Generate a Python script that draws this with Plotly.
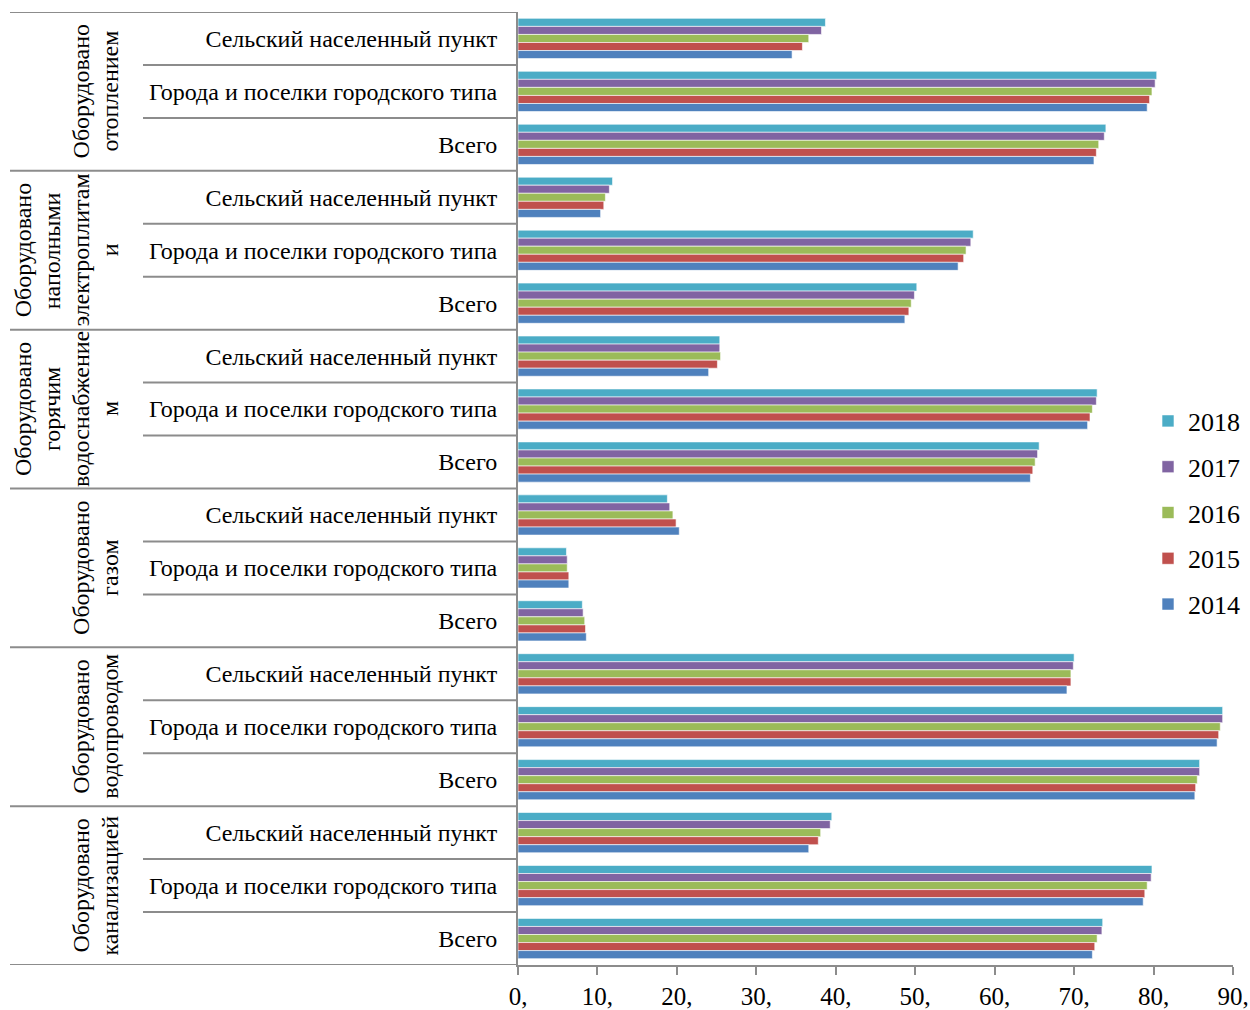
import plotly.graph_objects as go

group_lines = [["Оборудовано", "отоплением"],
               ["Оборудовано", "наполными", "электроплитам", "и"],
               ["Оборудовано", "горячим", "водоснабжение", "м"],
               ["Оборудовано", "газом"],
               ["Оборудовано", "водопроводом"],
               ["Оборудовано", "канализацией"]]
subs = ["Сельский населенный пункт", "Города и поселки городского типа", "Всего"]
years = ["2018", "2017", "2016", "2015", "2014"]
colors = ["#4BACC6", "#8064A2", "#9BBB59", "#C0504D", "#4F81BD"]

v2018 = [38.7, 80.4, 74.0, 11.9, 57.3, 50.2, 25.4, 72.9, 65.6, 18.8, 6.1, 8.1, 70.0, 88.7, 85.8, 39.5, 79.8, 73.6]
v2017 = [38.2, 80.2, 73.8, 11.5, 57.0, 49.9, 25.4, 72.8, 65.4, 19.1, 6.2, 8.2, 69.9, 88.7, 85.8, 39.3, 79.7, 73.5]
v2016 = [36.6, 79.8, 73.1, 11.0, 56.4, 49.5, 25.5, 72.3, 65.1, 19.5, 6.2, 8.4, 69.6, 88.4, 85.5, 38.1, 79.2, 72.9]
v2015 = [35.8, 79.5, 72.8, 10.8, 56.1, 49.2, 25.1, 72.0, 64.8, 19.9, 6.4, 8.5, 69.6, 88.2, 85.3, 37.8, 78.9, 72.6]
v2014 = [34.5, 79.2, 72.5, 10.4, 55.4, 48.7, 24.0, 71.7, 64.5, 20.3, 6.4, 8.6, 69.1, 88.0, 85.2, 36.6, 78.7, 72.3]
series = [v2018, v2017, v2016, v2015, v2014]

xticks = [0, 10, 20, 30, 40, 50, 60, 70, 80, 90]

FONT = "Times New Roman, Liberation Serif, serif"
GRAY = "#8C8C8C"

cats = []
labels = []
for gi in range(len(group_lines)):
    for s in subs:
        cats.append(f"{gi}|{s}")
        labels.append(s)

fig = go.Figure()
for name, vals, col in zip(years, series, colors):
    fig.add_trace(go.Bar(
        y=cats, x=vals, name=name, orientation="h",
        marker=dict(color=col, line=dict(color="rgba(255,255,255,0.6)", width=1)),
        legendgroup=name,
    ))

W, H = 1250, 1010
L, R, T, B = 518, 17, 12, 45
pw = W - L - R

def px2paper(px):
    return (px - L) / pw

shapes = []
n = len(cats)
for k in range(n + 1):
    y = k - 0.5
    x0 = px2paper(10) if k % 3 == 0 else px2paper(143)
    shapes.append(dict(type="line", xref="paper", yref="y", x0=x0, x1=0, y0=y, y1=y,
                       line=dict(color=GRAY, width=2)))

annotations = []
LINE_SP = 29
LAST_X = 110
for gi, lines in enumerate(group_lines):
    m = len(lines)
    for li, txt in enumerate(lines):
        cx = LAST_X - (m - 1 - li) * LINE_SP
        annotations.append(dict(
            text=txt, xref="paper", yref="y", x=px2paper(cx), y=gi * 3 + 1,
            xanchor="center", yanchor="middle", textangle=-90, showarrow=False,
            font=dict(family=FONT, size=24, color="black"),
        ))

fig.update_layout(
    width=W, height=H,
    margin=dict(l=L, r=R, t=T, b=B, pad=0, autoexpand=False),
    plot_bgcolor="white", paper_bgcolor="white",
    barmode="group", bargap=0.24, bargroupgap=0,
    font=dict(family=FONT, size=24, color="black"),
    shapes=shapes, annotations=annotations,
    legend=dict(xref="container", yref="container", x=1148 / W, y=1 - 513 / H,
                xanchor="left", yanchor="middle",
                font=dict(family=FONT, size=26, color="black"),
                tracegroupgap=9, bgcolor="rgba(0,0,0,0)"),
    showlegend=True,
)
fig.update_xaxes(range=[0, 90], tickvals=xticks, ticktext=[f"{t}," for t in xticks],
                 automargin=False,
                 showgrid=False, zeroline=False, showline=True, linecolor=GRAY, linewidth=2,
                 ticks="outside", ticklen=8, tickcolor=GRAY, tickwidth=2,
                 tickfont=dict(family=FONT, size=25, color="black"))
fig.update_yaxes(type="category", categoryorder="array", categoryarray=cats,
                 automargin=False,
                 range=[n - 0.5, -0.5], tickvals=cats, ticktext=labels,
                 showgrid=False, zeroline=False, showline=True, linecolor=GRAY, linewidth=2,
                 ticks="", ticklabelstandoff=14,
                 tickfont=dict(family=FONT, size=24, color="black"))

fig.write_html("out.html", config={"displayModeBar": False},
               post_script="document.body.style.margin='0';document.body.style.overflow='hidden';")
